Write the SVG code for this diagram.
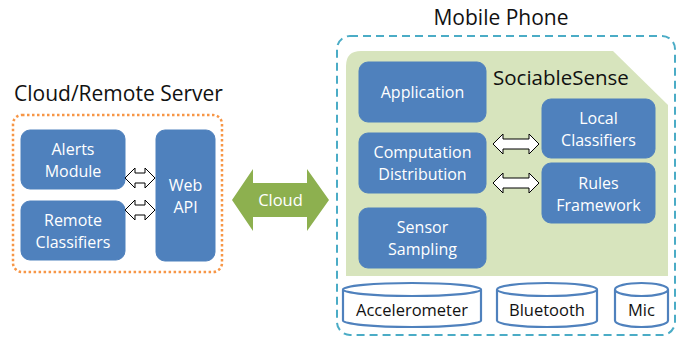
<svg xmlns="http://www.w3.org/2000/svg" width="683" height="339" viewBox="0 0 683 339">
<style>
.t{font-family:"Open Sans","Liberation Sans",sans-serif;}
.title{font-size:21px;fill:#111;}
.box{fill:#4F81BD;stroke:#4F81BD;stroke-width:1;}
.bl{font-size:16px;fill:#fff;text-anchor:middle;}
.dbl{fill:#fff;stroke:#000;stroke-width:1;}
.cyl{fill:#fff;stroke:#4F81BD;stroke-width:2.2;}
.cl{font-size:16.5px;fill:#111;text-anchor:middle;}
</style>
<rect width="683" height="339" fill="#fff"/>
<g id="cloud-server">
<text class="t title" x="14" y="101">Cloud/Remote Server</text>
<rect x="13" y="115" width="209" height="157" rx="9" fill="none" stroke="#F79646" stroke-width="2.5" stroke-dasharray="2.5,2.5"/>
</g>
<g id="alerts-module"><rect class="box" x="21" y="130" width="104" height="59" rx="9"/>
<text class="t bl" x="73" y="155">Alerts</text><text class="t bl" x="73" y="177">Module</text></g>
<g id="remote-classifiers"><rect class="box" x="21" y="201" width="104" height="59" rx="9"/>
<text class="t bl" x="73" y="226">Remote</text><text class="t bl" x="73" y="248">Classifiers</text></g>
<g id="web-api"><rect class="box" x="156" y="130" width="59" height="131" rx="9"/>
<text class="t bl" x="185.5" y="191">Web</text><text class="t bl" x="185.5" y="213">API</text></g>
<g id="mobile-phone">
<text class="t title" x="501" y="25" text-anchor="middle">Mobile Phone</text>
<rect x="337" y="36" width="338" height="299" rx="13" fill="none" stroke="#4BACC6" stroke-width="2" stroke-dasharray="8,5"/>
</g>
<g id="sociablesense">
<path d="M346,66 Q346,51 361,51 H613 L668,105 V276 H346 Z" fill="#D7E4BD"/>
<text class="t" x="493" y="85" font-size="20.5" fill="#111">SociableSense</text>
</g>
<g id="application"><rect class="box" x="359" y="62" width="127" height="60" rx="9"/>
<text class="t bl" x="422.5" y="98">Application</text></g>
<g id="computation-distribution"><rect class="box" x="359" y="133" width="127" height="60" rx="9"/>
<text class="t bl" x="422.5" y="158">Computation</text><text class="t bl" x="422.5" y="180">Distribution</text></g>
<g id="sensor-sampling"><rect class="box" x="359" y="208" width="127" height="60" rx="9"/>
<text class="t bl" x="422.5" y="233">Sensor</text><text class="t bl" x="422.5" y="255">Sampling</text></g>
<g id="local-classifiers"><rect class="box" x="542" y="99" width="113" height="59" rx="9"/>
<text class="t bl" x="598.5" y="124">Local</text><text class="t bl" x="598.5" y="146">Classifiers</text></g>
<g id="rules-framework"><rect class="box" x="542" y="163" width="113" height="60" rx="9"/>
<text class="t bl" x="598.5" y="189">Rules</text><text class="t bl" x="598.5" y="211">Framework</text></g>
<g id="accelerometer">
<path class="cyl" d="M343,289.5 V320.5 A69,6.5 0 0 0 481,320.5 V289.5"/>
<ellipse class="cyl" cx="412" cy="289.5" rx="69" ry="6.5"/>
<text class="t cl" x="412" y="316">Accelerometer</text></g>
<g id="bluetooth">
<path class="cyl" d="M497,289.5 V320.5 A50,6.5 0 0 0 597,320.5 V289.5"/>
<ellipse class="cyl" cx="547" cy="289.5" rx="50" ry="6.5"/>
<text class="t cl" x="547" y="316">Bluetooth</text></g>
<g id="mic">
<path class="cyl" d="M615,289.5 V320.5 A26.5,6.5 0 0 0 668,320.5 V289.5"/>
<ellipse class="cyl" cx="641.5" cy="289.5" rx="26.5" ry="6.5"/>
<text class="t cl" x="641.5" y="316">Mic</text></g>
<g id="connectors">
<polygon class="dbl" points="125,178 135,168 135,173 145,173 145,168 155,178 145,188 145,183 135,183 135,188"/>
<polygon class="dbl" points="125,210 135,200 135,205 145,205 145,200 155,210 145,220 145,215 135,215 135,220"/>
<polygon class="dbl" points="493,144 503,134 503,139 529,139 529,134 539,144 529,154 529,149 503,149 503,154"/>
<polygon class="dbl" points="493,183 503,173 503,178 529,178 529,173 539,183 529,193 529,188 503,188 503,193"/>
<g id="cloud">
<polygon points="232,200 253,169 253,183 307,183 307,169 329,200 307,231 307,217 253,217 253,231" fill="#8DB04F"/>
<text class="t" x="280.5" y="206" font-size="16.5" fill="#fff" text-anchor="middle">Cloud</text>
</g>
</g>
</svg>
